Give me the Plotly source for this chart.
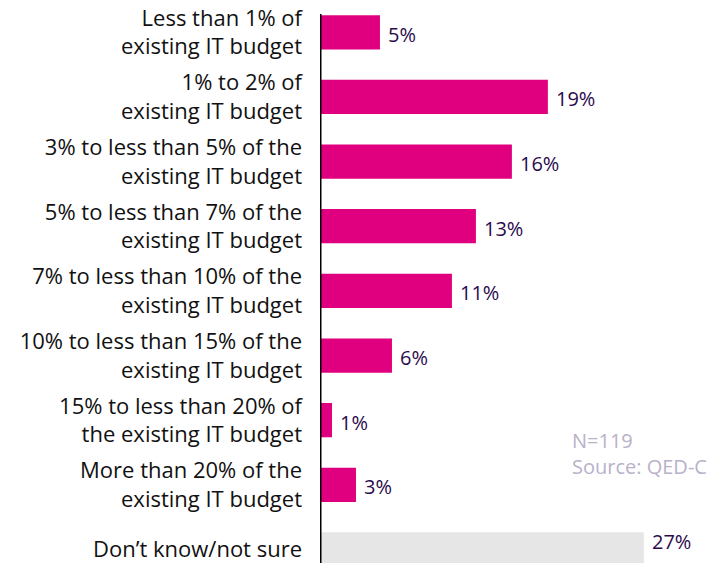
import plotly.graph_objects as go

# Survey answers: share of existing IT budget planned for quantum
categories = [
    "Less than 1% of<br>existing IT budget",
    "1% to 2% of<br>existing IT budget",
    "3% to less than 5% of the<br>existing IT budget",
    "5% to less than 7% of the<br>existing IT budget",
    "7% to less than 10% of the<br>existing IT budget",
    "10% to less than 15% of the<br>existing IT budget",
    "15% to less than 20% of<br>the existing IT budget",
    "More than 20% of the<br>existing IT budget",
    "Don’t know/not sure",
]
values = [5, 19, 16, 13, 11, 6, 1, 3, 27]
value_labels = ["5%", "19%", "16%", "13%", "11%", "6%", "1%", "3%", "27%"]

MAGENTA = "#E0007F"
GREY_BAR = "#E6E6E6"
LABEL = "#2B0B4D"
NOTE = "#B9B1C9"
FONT = "Open Sans"

bar_colors = [MAGENTA] * 8 + [GREY_BAR]

fig = go.Figure(
    go.Bar(
        x=values,
        y=categories,
        orientation="h",
        marker=dict(color=bar_colors, line=dict(width=0)),
        width=0.53,
        hoverinfo="skip",
    )
)

# value labels just beyond each bar end; the last row sits at the page
# bottom, so its label is lifted to stay fully visible
for i, (cat, v, lab) in enumerate(zip(categories, values, value_labels)):
    last = i == len(categories) - 1
    fig.add_annotation(
        x=v, y=cat, text=lab, showarrow=False,
        xanchor="left", yanchor="middle", xshift=6,
        yshift=8 if last else -2,
        font=dict(family=FONT, size=20, color=LABEL),
    )

# sample size and source note
fig.add_annotation(
    x=1, y=0.195, xref="paper", yref="paper",
    text="N=119<br>Source: QED-C", showarrow=False, align="left",
    xanchor="right", yanchor="middle", xshift=-2,
    font=dict(family=FONT, size=20, color=NOTE),
)

# vertical baseline at zero
fig.add_shape(
    type="line", xref="x", yref="paper", x0=0, x1=0, y0=0, y1=0.975,
    line=dict(color="black", width=3),
)

fig.update_layout(
    width=711,
    height=563,
    margin=dict(l=320, r=0, t=0, b=0),
    paper_bgcolor="white",
    plot_bgcolor="white",
    showlegend=False,
    xaxis=dict(
        range=[0, 32.6], visible=False, fixedrange=True,
    ),
    yaxis=dict(
        autorange=False, range=[8.21, -0.5],
        showline=False, showgrid=False, zeroline=False, ticks="",
        ticklabelstandoff=17,
        tickfont=dict(family=FONT, size=22, color="#111111"),
    ),
    font=dict(family=FONT),
)

fig.write_html("out.html")
